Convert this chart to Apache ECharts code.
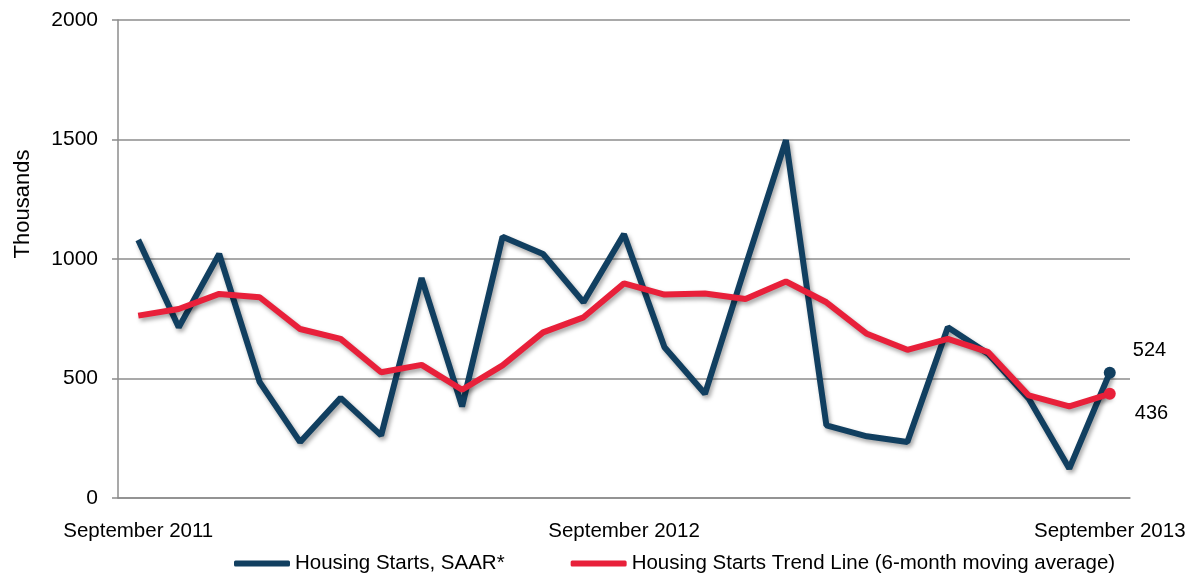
<!DOCTYPE html>
<html>
<head>
<meta charset="utf-8">
<script src="https://cdn.jsdelivr.net/npm/echarts@6/dist/echarts.min.js"></script>
<style>
  html, body { margin: 0; padding: 0; background: #fff; }
  #chart { width: 1197px; height: 581px; }
</style>
</head>
<body>
<div id="chart"></div>
<script>
// monthly categories, Sep 2011 .. Sep 2013
const months = ['January', 'February', 'March', 'April', 'May', 'June', 'July',
  'August', 'September', 'October', 'November', 'December']
const categories = []
for (let i = 0; i < 25; i++) {
  const m = (8 + i) % 12
  const y = 2011 + Math.floor((8 + i) / 12)
  categories.push(months[m] + ' ' + y)
}

const startsSaar = [1080, 714, 1021, 485, 234, 419, 262, 920, 383, 1093, 1021, 819,
  1104, 631, 436, 970, 1497, 304, 258, 234, 714, 603, 415, 123, 524]
const trendLine = [763, 791, 854, 840, 707, 666, 526, 557, 453, 555, 693, 756,
  898, 851, 856, 833, 906, 819, 687, 620, 666, 610, 429, 383, 436]

const yTicks = { min: 0, max: 2000, interval: 500 }

const BLUE = '#113f60'
const RED = '#e8203a'
const FONT = 'Liberation Sans, Arial, sans-serif'

const shadow = {
  shadowColor: 'rgba(0,0,0,0.35)',
  shadowBlur: 4,
  shadowOffsetX: 2,
  shadowOffsetY: 3,
}

// only the last point gets a marker and a value label
function withEndLabel(values, color, offset) {
  return values.map((v, i) => {
    if (i !== values.length - 1) return v
    return {
      value: v,
      symbol: 'circle',
      symbolSize: 12,
      itemStyle: { color },
      label: {
        show: true,
        position: 'right',
        offset,
        color: '#000',
        fontSize: 20,
        fontFamily: FONT,
      },
    }
  })
}

const chart = echarts.init(document.getElementById('chart'))

chart.setOption({
  backgroundColor: '#fff',
  animation: false,
  textStyle: { fontFamily: FONT },
  grid: { left: 118, right: 67, top: 20, bottom: 83 },
  legend: {
    left: 229,
    bottom: 2,
    icon: 'roundRect',
    itemWidth: 56,
    itemHeight: 6,
    itemGap: 66,
    textStyle: { color: '#000', fontSize: 20.5, fontFamily: FONT },
    data: ['Housing Starts, SAAR*', 'Housing Starts Trend Line (6-month moving average)'],
  },
  xAxis: {
    type: 'category',
    data: categories,
    boundaryGap: true,
    axisLine: { lineStyle: { color: '#8c8c8c', width: 1.5 } },
    axisTick: { show: false },
    axisLabel: {
      interval: 11,
      margin: 23,
      color: '#000',
      fontSize: 20.5,
      fontFamily: FONT,
    },
  },
  yAxis: {
    type: 'value',
    min: yTicks.min,
    max: yTicks.max,
    interval: yTicks.interval,
    name: 'Thousands',
    nameLocation: 'middle',
    nameGap: 84,
    nameRotate: 90,
    nameTextStyle: { color: '#000', fontSize: 22, fontFamily: FONT, padding: [0, 0, 0, 110] },
    axisLine: { show: true, lineStyle: { color: '#8c8c8c', width: 1.5 } },
    axisTick: { show: true, length: 6, lineStyle: { color: '#8c8c8c', width: 1.5 } },
    axisLabel: { color: '#000', fontSize: 21, margin: 20, fontFamily: FONT, formatter: (v) => String(v) },
    splitLine: { lineStyle: { color: '#8c8c8c', width: 1.5 } },
  },
  series: [
    {
      name: 'Housing Starts, SAAR*',
      type: 'line',
      symbol: 'none',
      showSymbol: true,
      color: BLUE,
      lineStyle: { color: BLUE, width: 6, ...shadow },
      data: withEndLabel(startsSaar, BLUE, [12, -22]),
      z: 2,
    },
    {
      name: 'Housing Starts Trend Line (6-month moving average)',
      type: 'line',
      symbol: 'none',
      showSymbol: true,
      color: RED,
      lineStyle: { color: RED, width: 6, ...shadow },
      data: withEndLabel(trendLine, RED, [14, 20]),
      z: 3,
    },
  ],
})
</script>
</body>
</html>
